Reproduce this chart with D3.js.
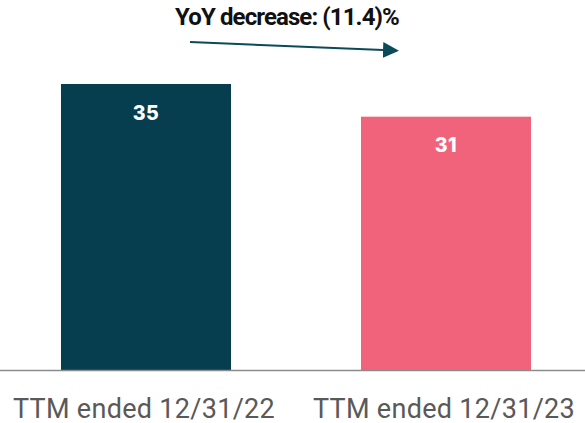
<!DOCTYPE html>
<html><head><meta charset="utf-8">
<script src="https://cdn.jsdelivr.net/npm/d3@7"></script>
<style>body{margin:0;background:#fff}svg{display:block}</style>
</head><body>
<svg id="c" width="585" height="423"></svg>
<script>
const categories = ["TTM ended 12/31/22", "TTM ended 12/31/23"];
const values = [35, 31];
const colors = ["#063d4f", "#f1627b"];
const annotation = "YoY decrease: (11.4)%";

const svg = d3.select("#c");
const font = "Roboto, 'Noto Sans', sans-serif";

const x = d3.scaleBand().domain(categories).range([61, 531]).paddingInner(0.4333).paddingOuter(0);
const y = d3.scaleLinear().domain([0, 35]).range([370, 84]);

svg.selectAll("rect.bar").data(values).join("rect")
  .attr("class", "bar")
  .attr("x", (d, i) => x(categories[i]))
  .attr("width", x.bandwidth())
  .attr("y", d => y(d))
  .attr("height", d => y(0) - y(d))
  .attr("fill", (d, i) => colors[i]);

svg.selectAll("text.val").data(values).join("text")
  .attr("class", "val")
  .attr("x", (d, i) => x(categories[i]) + x.bandwidth() / 2)
  .attr("y", d => y(d) + 35.5)
  .attr("text-anchor", "middle")
  .attr("fill", "#fff")
  .attr("font-family", "Inter, Roboto, sans-serif")
  .attr("font-weight", 800)
  .attr("font-size", 19.5)
  .attr("letter-spacing", 0.5)
  .text(d => d);

// baseline
svg.append("line")
  .attr("x1", 0).attr("x2", 585)
  .attr("y1", y(0) + 0.5).attr("y2", y(0) + 0.5)
  .attr("stroke", "#8c8c8c").attr("stroke-width", 1.5);

// category axis
const ax = svg.append("g").attr("transform", `translate(-2,${y(0)})`)
  .call(d3.axisBottom(x).tickSize(0).tickPadding(0));
ax.select(".domain").remove();
ax.selectAll("text")
  .attr("dy", null)
  .attr("y", 47.5)
  .attr("font-family", font)
  .attr("font-size", 27)
  .attr("letter-spacing", 0.3)
  .attr("fill", "#595959");

// annotation
svg.append("text")
  .attr("x", 287).attr("y", 25)
  .attr("text-anchor", "middle")
  .attr("font-family", font)
  .attr("font-weight", 700)
  .attr("font-size", 24)
  .attr("letter-spacing", -0.9)
  .attr("fill", "#111")
  .text(annotation);

const defs = svg.append("defs");
defs.append("marker").attr("id", "ah")
  .attr("viewBox", "0 0 10 10").attr("refX", 0).attr("refY", 5)
  .attr("markerWidth", 8).attr("markerHeight", 8)
  .attr("markerUnits", "strokeWidth")
  .attr("orient", "auto")
  .append("path").attr("d", "M0,0 L10,5 L0,10 Z").attr("fill", "#0b4a5a");

svg.append("line")
  .attr("x1", 190).attr("y1", 42).attr("x2", 383).attr("y2", 50)
  .attr("stroke", "#0b4a5a").attr("stroke-width", 2)
  .attr("marker-end", "url(#ah)");
</script>
</body></html>
